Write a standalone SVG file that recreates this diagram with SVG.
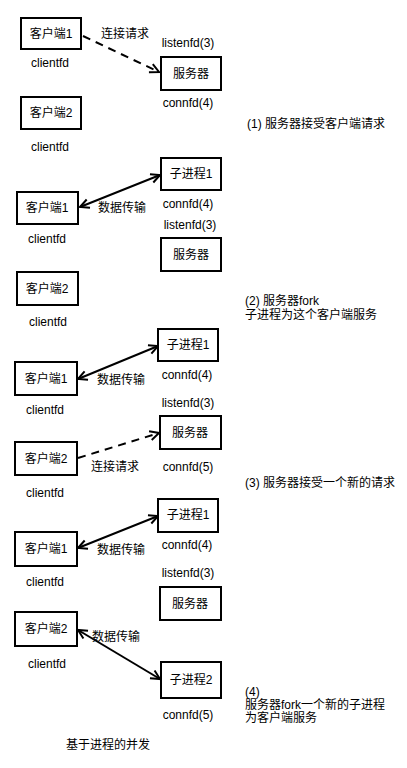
<svg xmlns="http://www.w3.org/2000/svg" width="407" height="768" viewBox="0 0 407 768">
<style>
.box{fill:#fff;stroke:#000;stroke-width:2}
text{font-family:"Liberation Sans","Noto Sans CJK SC",sans-serif;font-size:12px;fill:#000}
.c{text-anchor:middle;dominant-baseline:central}
.l{dominant-baseline:central}
.edge{fill:none;stroke:#000;stroke-width:2}
.dash{stroke-dasharray:8 6}
</style>
<defs>
<marker id="arr" markerUnits="userSpaceOnUse" markerWidth="14" markerHeight="14" refX="11" refY="7" orient="auto-start-reverse">
<path d="M2,2.5 L11,7 L2,11.5" fill="none" stroke="#000" stroke-width="2"/>
</marker>
</defs>
<rect width="407" height="768" fill="#fff"/>

<g id="connectors">
<path class="edge dash" d="M83,36 L159,72" marker-end="url(#arr)"/>
<path class="edge" d="M80,207 L160,175" marker-start="url(#arr)" marker-end="url(#arr)"/>
<path class="edge" d="M78,379 L158,346" marker-start="url(#arr)" marker-end="url(#arr)"/>
<path class="edge dash" d="M78,458 L159,433" marker-end="url(#arr)"/>
<path class="edge" d="M78,548 L158,516" marker-start="url(#arr)" marker-end="url(#arr)"/>
<path class="edge" d="M78,630 L160,679" marker-start="url(#arr)" marker-end="url(#arr)"/>
</g>

<!-- Section 1 -->
<g id="s1-client1"><rect class="box" x="21" y="18" width="60" height="31"/><text class="c" x="51" y="34">客户端1</text></g>
<g id="s1-client2"><rect class="box" x="21" y="97" width="60" height="32"/><text class="c" x="51" y="113">客户端2</text></g>
<g id="s1-server"><rect class="box" x="161" y="57" width="60" height="33"/><text class="c" x="191" y="74">服务器</text></g>
<g id="s1-labels">
<text class="c" x="50" y="63">clientfd</text>
<text class="c" x="50" y="147">clientfd</text>
<text class="c" x="125" y="34">连接请求</text>
<text class="c" x="188" y="43">listenfd(3)</text>
<text class="c" x="188" y="103">connfd(4)</text>
<text class="l" x="247" y="124">(1) 服务器接受客户端请求</text>
</g>

<!-- Section 2 -->
<g id="s2-child1"><rect class="box" x="161" y="158" width="60" height="32"/><text class="c" x="191" y="174">子进程1</text></g>
<g id="s2-client1"><rect class="box" x="17" y="192" width="61" height="32"/><text class="c" x="47" y="208">客户端1</text></g>
<g id="s2-server"><rect class="box" x="161" y="238" width="60" height="33"/><text class="c" x="191" y="255">服务器</text></g>
<g id="s2-client2"><rect class="box" x="17" y="272" width="61" height="33"/><text class="c" x="47" y="289">客户端2</text></g>
<g id="s2-labels">
<text class="c" x="122" y="208">数据传输</text>
<text class="c" x="188" y="204">connfd(4)</text>
<text class="c" x="190" y="225">listenfd(3)</text>
<text class="c" x="47" y="239">clientfd</text>
<text class="c" x="48" y="322">clientfd</text>
<text class="l" x="245" y="301">(2) 服务器fork</text>
<text class="l" x="245" y="315">子进程为这个客户端服务</text>
</g>

<!-- Section 3 -->
<g id="s3-child1"><rect class="box" x="158" y="329" width="60" height="32"/><text class="c" x="188" y="345">子进程1</text></g>
<g id="s3-client1"><rect class="box" x="15" y="362" width="62" height="33"/><text class="c" x="46" y="379">客户端1</text></g>
<g id="s3-server"><rect class="box" x="160" y="416" width="61" height="33"/><text class="c" x="190" y="433">服务器</text></g>
<g id="s3-client2"><rect class="box" x="15" y="442" width="62" height="33"/><text class="c" x="46" y="459">客户端2</text></g>
<g id="s3-labels">
<text class="c" x="121" y="380">数据传输</text>
<text class="c" x="187" y="375">connfd(4)</text>
<text class="c" x="188" y="403">listenfd(3)</text>
<text class="c" x="45" y="410">clientfd</text>
<text class="c" x="45" y="493">clientfd</text>
<text class="c" x="115" y="467">连接请求</text>
<text class="c" x="188" y="467">connfd(5)</text>
<text class="l" x="245" y="483">(3) 服务器接受一个新的请求</text>
</g>

<!-- Section 4 -->
<g id="s4-child1"><rect class="box" x="158" y="499" width="60" height="33"/><text class="c" x="188" y="515">子进程1</text></g>
<g id="s4-client1"><rect class="box" x="15" y="532" width="62" height="34"/><text class="c" x="46" y="549">客户端1</text></g>
<g id="s4-server"><rect class="box" x="160" y="587" width="61" height="33"/><text class="c" x="190" y="604">服务器</text></g>
<g id="s4-client2"><rect class="box" x="15" y="612" width="62" height="34"/><text class="c" x="46" y="629">客户端2</text></g>
<g id="s4-child2"><rect class="box" x="161" y="662" width="60" height="36"/><text class="c" x="191" y="680">子进程2</text></g>
<g id="s4-labels">
<text class="c" x="121" y="550">数据传输</text>
<text class="c" x="187" y="545">connfd(4)</text>
<text class="c" x="188" y="573">listenfd(3)</text>
<text class="c" x="45" y="582">clientfd</text>
<text class="c" x="116" y="637">数据传输</text>
<text class="c" x="47" y="664">clientfd</text>
<text class="c" x="188" y="715">connfd(5)</text>
<text class="l" x="245" y="692">(4)</text>
<text class="l" x="245" y="705">服务器fork一个新的子进程</text>
<text class="l" x="245" y="718">为客户端服务</text>
<text class="c" x="108" y="745">基于进程的并发</text>
</g>
</svg>
